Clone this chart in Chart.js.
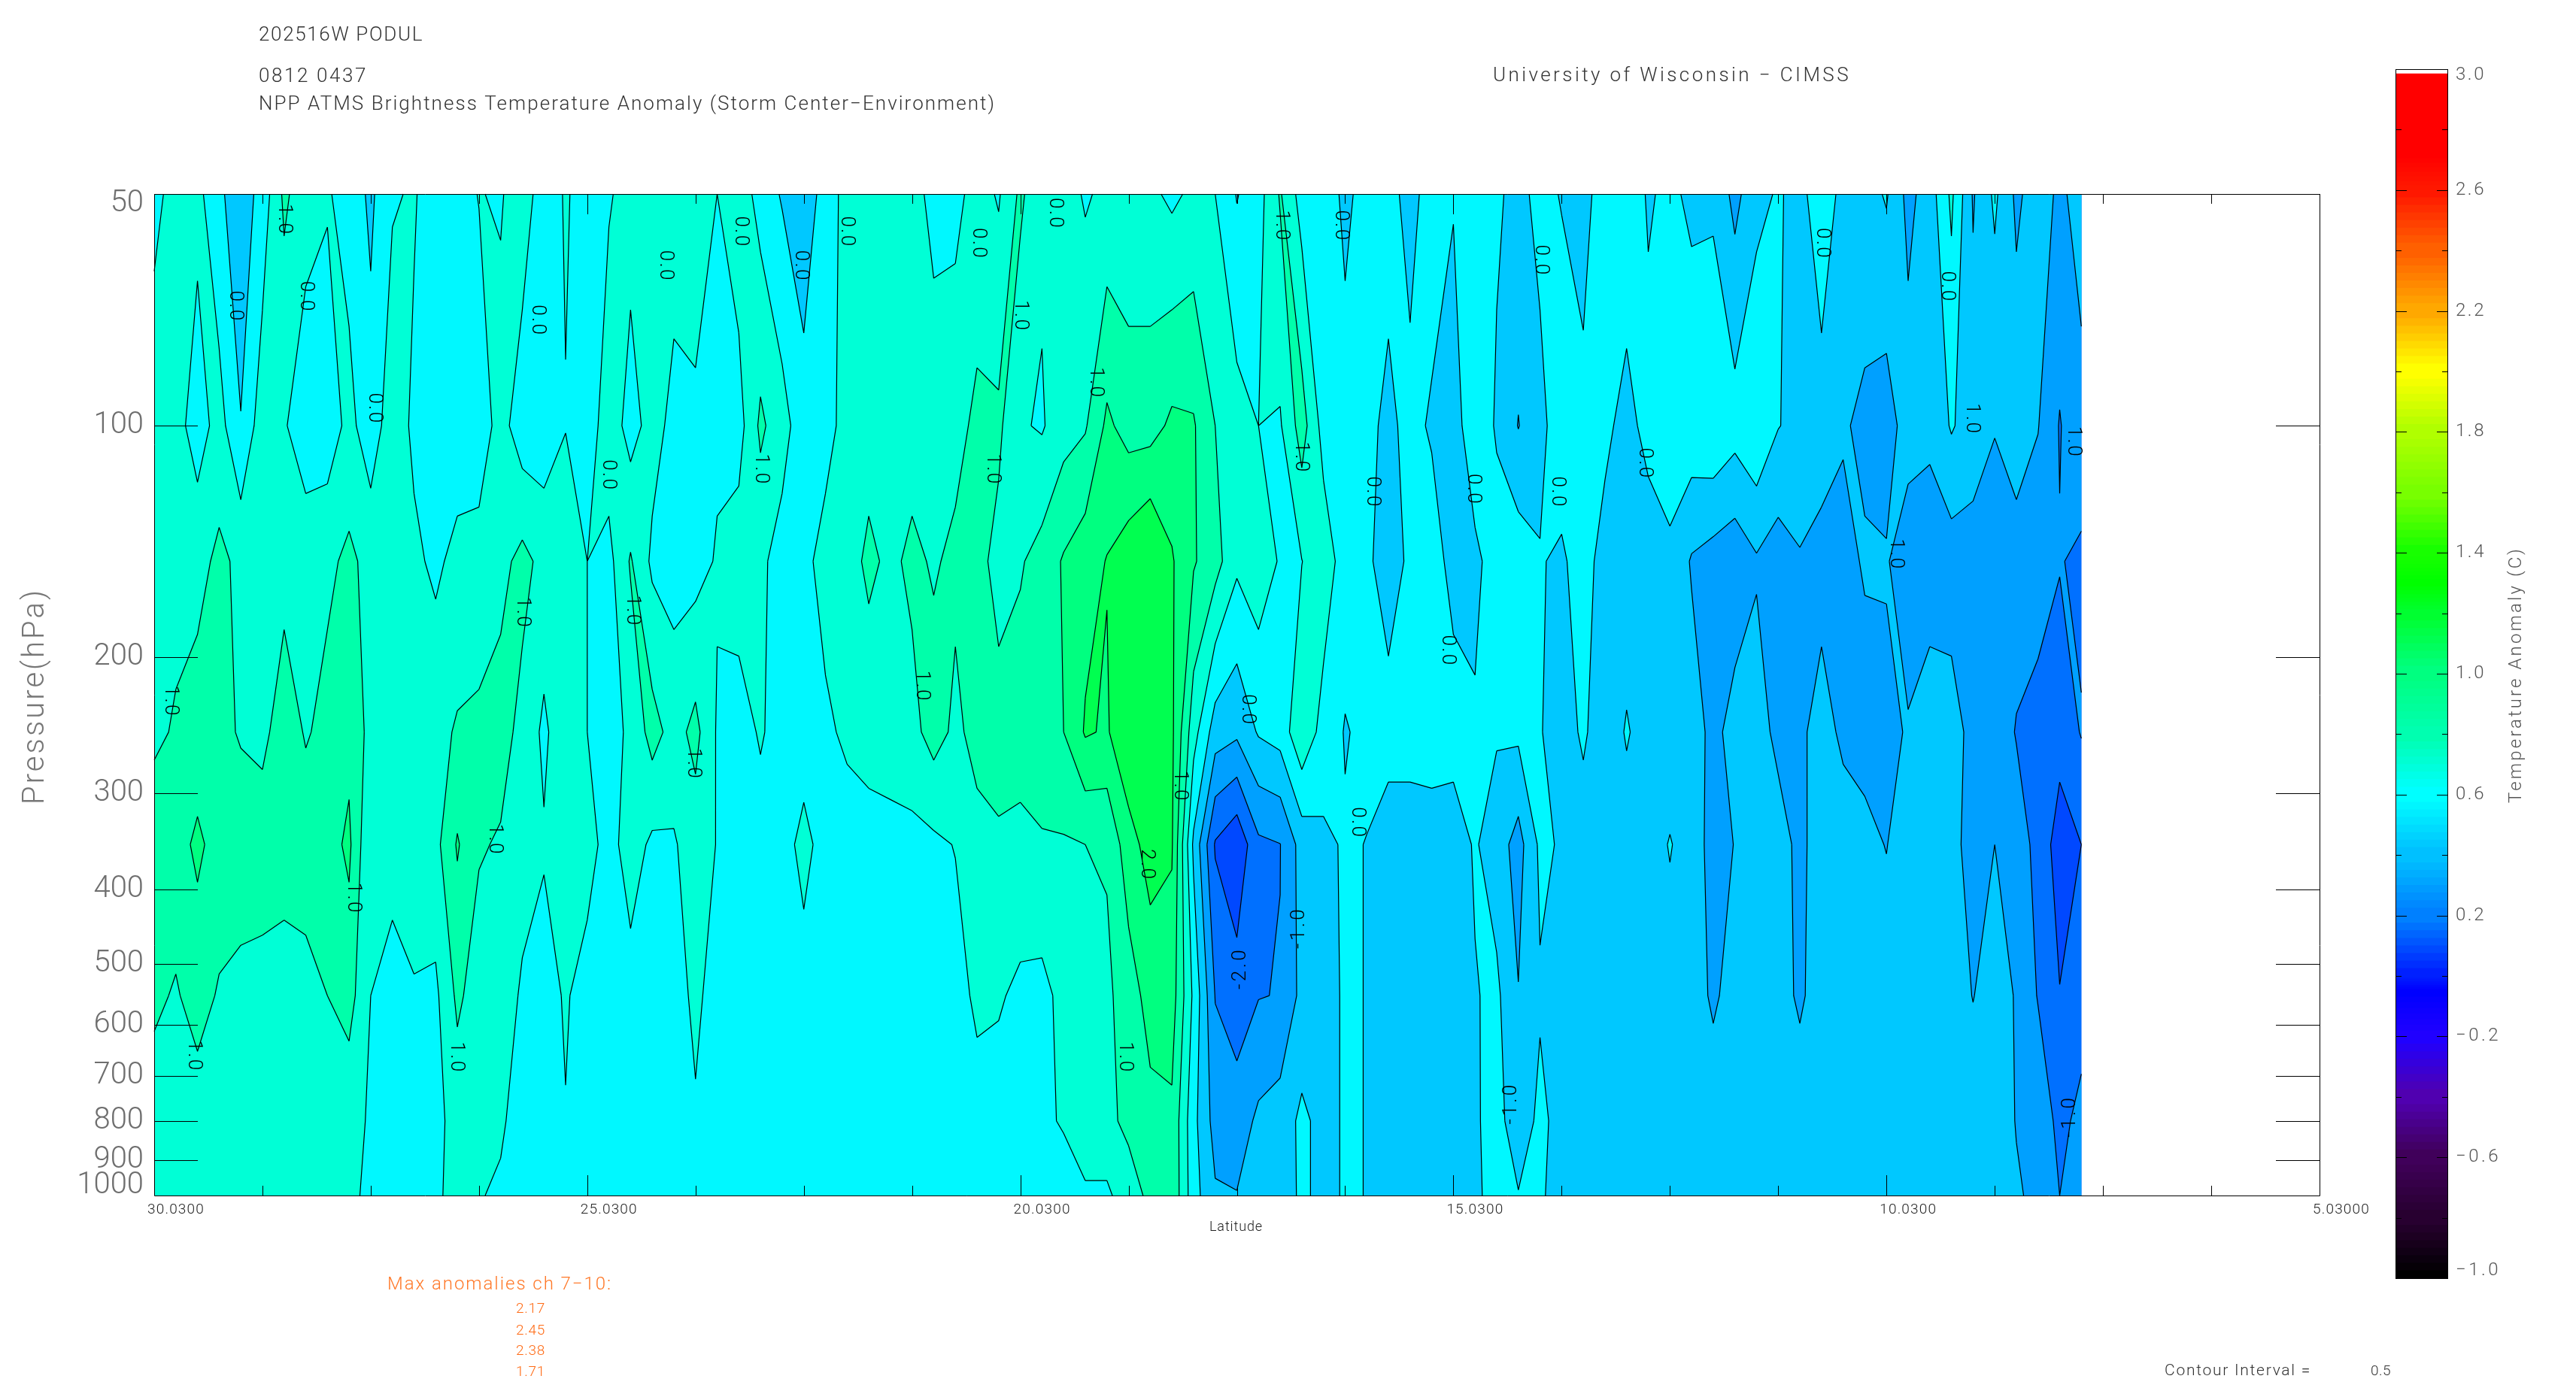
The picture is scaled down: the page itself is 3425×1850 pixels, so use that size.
<!DOCTYPE html>
<html>
<head>
<meta charset="utf-8">
<script src="https://cdn.jsdelivr.net/npm/chart.js@4"></script>
<style>
  html, body { margin: 0; background: #fff; }
  #wrap { position: relative; width: 3425px; height: 1850px; }
  canvas { position: absolute; left: 0; top: 0; }
  #bar { left: 3150px; }
</style>
</head>
<body>
<div id="wrap">
  <canvas id="main" width="3425" height="1850"></canvas>
  <canvas id="bar" width="275" height="1850"></canvas>
</div>
<script>
const levels = [50, 100, 150, 250, 350, 550, 800, 1000];
const firstLat = 30.03;
const latStep = 0.25;

const row50 = [.35,.7,.65,.1,-.3,.2,1.1,.7,.55,.3,-.1,.45,.55,.2,.3,.52,.45,.8,.2,.55,.3,.45,.7,.55,.75,.8,.5,.8,.3,-.05,-.3,.2,.7,.5,.8,.75,.3,.35,.7,.45,1.1,.6,.7,.45,.6,.6,.6,.4,.6,.5,-.03,.3,1.05,.28,.3,-.12,.2,.15,-.15,.2,.03,.35,.05,-.1,.1,-.02,-.2,.3,.3,-.05,.1,-.1,-.1,-.65,-.15,.05,-.15,.3,-.15,-.2,.05,-.65,-.25,.6,-.55,.1,-.6,-.25,-.6,-.3];
const row100 = [.8,.7,.25,.7,.02,.8,.55,.2,.2,.65,.2,.8,.4,.2,.2,.2,.7,.2,.2,.48,.2,.8,.3,.7,.35,.4,.4,.3,1.1,.7,.2,.3,.7,.8,.8,.8,.85,.85,1.1,1.1,.55,.45,.8,.95,1.6,1.3,1.3,1.6,1.55,1.0,.7,.5,.45,1.23,.3,.2,.1,-.09,.12,-.05,-.2,.3,-.05,-.52,-.1,.2,.14,.1,-.15,.15,.2,.34,.45,.21,.45,.02,-.15,-.2,-.45,-.6,-.75,-.25,-.4,.05,-.25,-.48,-.2,-.48,-1.03,-.65];
const row150 = [.85,.85,.85,1.1,.9,.85,.8,.8,.9,1.1,.85,.85,.6,.4,.65,.7,.85,1.15,.85,.85,.5,.35,1.05,.4,.3,.3,.55,.75,.6,.3,.35,.7,.8,1.1,.9,1.1,.95,1.1,1.15,.85,.95,1.2,1.55,1.8,2.02,2.3,2.6,2.05,1.55,1.2,.6,.8,.45,.49,.8,.25,.1,-.25,.1,.2,-.15,-.1,.2,.3,.02,-.05,.15,-.15,-.2,-.25,-.07,-.55,-.71,-.83,-.56,-.75,-.54,-.7,-.65,-.45,-.45,-.83,-.75,-.75,-.7,-.7,-.75,-.8,-.97,-1.1];
const row250 = [.9,1.05,1.2,1.15,.95,.85,1.3,.95,1.15,1.35,.85,.8,.8,.85,1.05,1.1,1.2,.85,.4,.85,.5,.3,.6,1.2,.8,1.15,.45,.3,.55,.3,.25,.4,.6,.7,.8,.85,1.2,.9,1.15,1.15,1.25,1.3,1.5,2.05,1.95,2.4,2.6,2.1,.7,-.25,-.4,.05,.2,.9,.3,-.03,.1,.2,.2,.25,.2,.05,.05,.1,.02,-.15,.05,-.2,.03,-.15,-.2,-.25,-.65,-.3,-.25,-.65,-.6,-.3,-.6,-.7,-.65,-.45,-.25,-.3,-.65,-.7,-1.03,-1.15,-1.3,-.97];
const row350 = [1.3,1.3,1.6,1.3,1.3,1.3,1.3,1.3,1.3,1.6,.5,.7,.8,.85,1.55,1.05,.95,.65,.55,.7,.7,.3,.75,.4,.45,.75,.48,.3,.3,.3,.65,.3,.25,.3,.3,.35,.4,.52,.85,.95,.85,.95,.95,1.0,1.05,1.8,2.2,2.05,-.1,-1.55,-1.9,-1.1,-1.01,-.3,-.1,.05,-.01,-.25,-.25,-.25,-.25,.05,-.25,-.7,.1,-.05,-.15,-.15,-.15,-.15,.02,-.15,-.75,-.48,-.2,-.25,-.65,-.2,-.25,-.35,-.52,-.15,-.2,-.3,-.75,-.5,-.75,-1.15,-1.75,-1.5];
const row550 = [1.1,.95,1.2,.95,.85,.8,.7,.8,1.0,1.2,.5,.3,.45,.4,1.1,.75,.7,.45,.3,.55,.3,.3,.3,.3,.3,.6,.3,.3,.3,.3,.3,.3,.3,.3,.3,.3,.3,.3,.6,.55,.4,.35,.65,.85,.9,1.25,1.7,1.75,.4,-1.02,-1.25,-1.02,-.98,-.35,-.15,.05,-.01,-.15,-.15,-.15,-.15,-.03,.1,-.48,-.05,-.2,-.2,-.2,-.2,-.2,-.15,-.2,-.6,-.25,-.2,-.25,-.6,-.2,-.2,-.2,-.2,-.2,-.2,-.2,-.52,-.2,-.55,-1.03,-1.48,-1.25];
const row800 = [.75,.75,.75,.75,.75,.75,.75,.75,.75,.65,.45,.3,.3,.35,.7,.7,.55,.35,.3,.48,.3,.3,.3,.3,.3,.45,.3,.3,.3,.3,.3,.3,.3,.3,.3,.3,.3,.3,.3,.3,.3,.4,.55,.7,.9,1.1,1.35,1.4,.15,-.7,-.77,-.4,-.25,.1,-.15,.05,-.01,-.15,-.15,-.15,-.15,-.05,.15,-.25,.1,-.15,-.15,-.15,-.15,-.15,-.15,-.15,-.15,-.15,-.15,-.15,-.15,-.15,-.15,-.15,-.15,-.15,-.15,-.15,-.15,-.25,-.52,-.65,-1.15,-.85];
const row1000 = [.7,.7,.7,.7,.7,.7,.7,.7,.7,.7,.3,.3,.3,.45,.6,.52,.45,.25,.25,.25,.25,.25,.25,.25,.25,.25,.25,.25,.25,.25,.25,.25,.25,.25,.25,.25,.25,.25,.25,.25,.25,.25,.25,.45,.4,.8,1.1,1.4,.2,-.44,-.48,-.4,-.3,.1,-.15,.05,-.01,-.15,-.15,-.15,-.15,-.1,.2,.02,.05,-.15,-.15,-.15,-.15,-.15,-.15,-.15,-.15,-.15,-.15,-.15,-.15,-.15,-.15,-.15,-.15,-.15,-.15,-.15,-.15,-.15,-.45,-.6,-1.0,-.7];
const rows = [row50, row100, row150, row250, row350, row550, row800, row1000];

// fill bands, lowest first
const contourLevels = [-1.5, -1, -0.5, 0, 0.5, 1, 1.5, 2];
const bandColors = ['#0048ff', '#0070ff', '#00a0ff', '#00c8ff', '#00f8ff', '#00ffd6', '#00ffaa', '#00ff80', '#00ff50'];

const pressureTicks = [100, 200, 300, 400, 500, 600, 700, 800, 900];
const pressureLabels = [50, 100, 200, 300, 400, 500, 600, 700, 800, 900, 1000];
const latMajor = [30.03, 25.03, 20.03, 15.03, 10.03, 5.03];
const latMajorLabels = ['30.0300', '25.0300', '20.0300', '15.0300', '10.0300', '5.03000'];

// lat, pressure, text
const contourLabels = [
  [29.10,70,'0.0'],[28.53,54,'1.0'],[28.28,68,'0.0'],[27.49,95,'0.0'],[25.61,73,'0.0'],[24.13,62,'0.0'],
  [23.26,56,'0.0'],[22.57,62,'0.0'],[22.04,56,'0.0'],[20.52,58,'0.0'],[20.03,72,'1.0'],[19.63,53,'0.0'],
  [19.16,88,'1.0'],[20.35,114,'1.0'],[17.02,55,'1.0'],[16.33,55,'0.0'],[16.79,110,'1.0'],[15.97,122,'0.0'],
  [14.80,121,'0.0'],[13.83,122,'0.0'],[14.02,61,'0.0'],[10.77,58,'0.0'],[9.33,66,'0.0'],[12.82,112,'0.0'],
  [9.05,98,'1.0'],[7.87,105,'1.0'],[9.92,147,'1.0'],[15.10,196,'0.0'],[17.41,234,'0.0'],[18.19,294,'1.0'],
  [16.14,328,'0.0'],[18.57,372,'2.0'],[17.49,507,'-2.0'],[16.81,449,'-1.0'],[14.36,759,'-1.0'],[7.91,789,'-1.0'],
  [18.82,662,'1.0'],[29.84,228,'1.0'],[29.57,659,'1.0'],[27.73,411,'1.0'],[26.54,662,'1.0'],[26.10,345,'1.0'],
  [25.78,175,'1.0'],[24.79,116,'0.0'],[24.51,174,'1.0'],[23.03,114,'1.0'],[23.81,275,'1.0'],[21.17,218,'1.0']
];

const lats = row50.map((v, i) => firstLat - latStep * i);
const gridPoints = [];
levels.forEach((p, j) => lats.forEach((lat, i) => gridPoints.push({ x: lat, y: p, v: rows[j][i] })));

// colour bar
const cbValues = [-1, -0.8, -0.6, -0.4, -0.2, -0.05, 0, 0.2, 0.4, 0.6, 0.8, 1.0, 1.2, 1.3, 1.4, 1.6, 1.8, 2.0, 2.2, 2.4, 2.6, 2.72, 2.985];
const cbColors = ['#000000', '#280030', '#40005a', '#5000b0', '#2000ff', '#0000ff', '#0020ff', '#0080ff', '#00c0ff', '#00ffff', '#00ffb0', '#00ff80', '#00ff30', '#00ff00', '#18ff00', '#78ff00', '#b0ff00', '#ffff00', '#ffa800', '#ff6000', '#ff1800', '#ff0000', '#ff0000'];
const cbMajor = [3, 2.6, 2.2, 1.8, 1.4, 1.0, 0.6, 0.2, -0.2, -0.6, -1];
const cbMinor = [2.8, 2.4, 2.0, 1.6, 1.2, 0.8, 0.4, 0, -0.4, -0.8];

function hexRgb(h) {
  return [parseInt(h.slice(1, 3), 16), parseInt(h.slice(3, 5), 16), parseInt(h.slice(5, 7), 16)];
}

function text(ctx, str, x, y, size, color, width, angle) {
  ctx.save();
  ctx.font = '300 ' + size + 'px Roboto';
  ctx.fillStyle = color;
  ctx.textBaseline = 'middle';
  ctx.textAlign = 'left';
  ctx.translate(x, y);
  if (angle) ctx.rotate(angle);
  if (width) {
    ctx.letterSpacing = '0px';
    const w = ctx.measureText(str).width;
    ctx.letterSpacing = ((width - w) / str.length) + 'px';
  }
  ctx.fillText(str, 0, 0);
  ctx.restore();
}

// polygon part of a cell where value >= level
function clipCell(cell, level) {
  const out = [];
  for (let k = 0; k < 4; k++) {
    const a = cell[k], b = cell[(k + 1) % 4];
    if (a.v >= level) out.push(a);
    if ((a.v >= level) !== (b.v >= level)) {
      const t = (level - a.v) / (b.v - a.v);
      out.push({ x: a.x + (b.x - a.x) * t, y: a.y + (b.y - a.y) * t });
    }
  }
  return out;
}

const contourPlugin = {
  id: 'contour',
  beforeDatasetsDraw(chart) {
    const ctx = chart.ctx, xs = chart.scales.x, ys = chart.scales.y;
    const px = lats.map(l => xs.getPixelForValue(l));
    const py = levels.map(p => ys.getPixelForValue(p));
    const cells = [];
    for (let j = 0; j < levels.length - 1; j++) {
      for (let i = 0; i < lats.length - 1; i++) {
        cells.push([
          { x: px[i], y: py[j], v: rows[j][i] },
          { x: px[i + 1], y: py[j], v: rows[j][i + 1] },
          { x: px[i + 1], y: py[j + 1], v: rows[j + 1][i + 1] },
          { x: px[i], y: py[j + 1], v: rows[j + 1][i] }
        ]);
      }
    }
    ctx.save();
    ctx.fillStyle = bandColors[0];
    ctx.fillRect(px[0], py[0], px[px.length - 1] - px[0], py[py.length - 1] - py[0]);
    contourLevels.forEach((level, n) => {
      ctx.beginPath();
      cells.forEach(cell => {
        const poly = clipCell(cell, level);
        if (poly.length < 3) return;
        ctx.moveTo(poly[0].x, poly[0].y);
        poly.slice(1).forEach(p => ctx.lineTo(p.x, p.y));
        ctx.closePath();
      });
      ctx.fillStyle = bandColors[n + 1];
      ctx.fill();
    });
    ctx.strokeStyle = '#000';
    ctx.lineWidth = 1.2;
    contourLevels.forEach(level => {
      ctx.beginPath();
      cells.forEach(cell => {
        const hits = [];
        for (let k = 0; k < 4; k++) {
          const a = cell[k], b = cell[(k + 1) % 4];
          if ((a.v >= level) !== (b.v >= level)) {
            const t = (level - a.v) / (b.v - a.v);
            hits.push([a.x + (b.x - a.x) * t, a.y + (b.y - a.y) * t]);
          }
        }
        // saddle: pair the crossings the same way the fill polygon joins them
        if (hits.length === 4 && cell[0].v < level) hits.push(hits.shift());
        for (let h = 0; h + 1 < hits.length; h += 2) {
          ctx.moveTo(hits[h][0], hits[h][1]);
          ctx.lineTo(hits[h + 1][0], hits[h + 1][1]);
        }
      });
      ctx.stroke();
    });
    ctx.restore();
  },
  afterDraw(chart) {
    const ctx = chart.ctx, xs = chart.scales.x, ys = chart.scales.y;
    const a = chart.chartArea;
    ctx.save();
    ctx.strokeStyle = '#000';
    ctx.lineWidth = 1;
    ctx.beginPath();
    ctx.rect(a.left + 0.5, a.top + 0.5, a.right - a.left, a.bottom - a.top);
    pressureTicks.forEach(p => {
      const y = Math.round(ys.getPixelForValue(p)) + 0.5;
      ctx.moveTo(a.left, y); ctx.lineTo(a.left + 58, y);
      ctx.moveTo(a.right - 58, y); ctx.lineTo(a.right, y);
    });
    for (let k = 0; k <= 20; k++) {
      const lat = 30.03 - 1.25 * k;
      const x = Math.round(xs.getPixelForValue(lat)) + 0.5;
      const len = k % 4 === 0 ? 27 : 13;
      ctx.moveTo(x, a.bottom); ctx.lineTo(x, a.bottom - len);
      ctx.moveTo(x, a.top); ctx.lineTo(x, a.top + len);
    }
    ctx.stroke();
    ctx.restore();

    contourLabels.forEach(l => {
      const x = xs.getPixelForValue(l[0]), y = ys.getPixelForValue(l[1]);
      const up = l[2].charAt(0) === '-';
      ctx.save();
      ctx.translate(x, y);
      ctx.rotate(up ? -Math.PI / 2 : Math.PI / 2);
      text(ctx, l[2], up ? -28 : -21, 0, 26, '#000', up ? 56 : 42, 0);
      ctx.restore();
    });

    // axis labels
    pressureLabels.forEach(p => {
      let y = ys.getPixelForValue(p);
      if (p === 50) y += 13;
      if (p === 1000) y -= 13;
      ctx.save();
      ctx.font = '300 40px Roboto';
      ctx.fillStyle = '#6e6e6e';
      ctx.textAlign = 'right';
      ctx.textBaseline = 'middle';
      ctx.fillText(String(p), a.left - 14, y);
      ctx.restore();
    });
    latMajor.forEach((lat, i) => {
      text(ctx, latMajorLabels[i], xs.getPixelForValue(lat) - 9, 1609, 19, '#222', 76);
    });

    text(ctx, '202516W PODUL', 344, 47, 26, '#333', 219);
    text(ctx, '0812 0437', 344, 102, 26, '#333', 145);
    text(ctx, 'NPP ATMS Brightness Temperature Anomaly (Storm Center\u2212Environment)', 344, 139, 26, '#333', 980);
    text(ctx, 'University of Wisconsin \u2212 CIMSS', 1985, 101, 26, '#333', 476);
    text(ctx, 'Pressure(hPa)', 48, 1070, 40, '#777', 288, -Math.PI / 2);
    text(ctx, 'Latitude', 1608, 1632, 18, '#222', 71);
    text(ctx, 'Max anomalies ch 7\u221210:', 515, 1709, 24, '#ff7828', 299);
    ['2.17', '2.45', '2.38', '1.71'].forEach((s, i) => {
      text(ctx, s, 686, [1741, 1770, 1797, 1825][i], 19, '#ff6a14', 39);
    });
    text(ctx, 'Contour Interval =', 2878, 1824, 21, '#333', 195);
    text(ctx, '0.5', 3152, 1824, 19, '#333', 27);
  }
};

new Chart(document.getElementById('main'), {
  type: 'scatter',
  data: { datasets: [{ data: gridPoints, pointRadius: 0, showLine: false }] },
  options: {
    responsive: false,
    animation: false,
    parsing: false,
    layout: { padding: { left: 205, top: 258, right: 341, bottom: 260 } },
    plugins: { legend: { display: false }, tooltip: { enabled: false } },
    scales: {
      x: { type: 'linear', display: false, reverse: true, min: 5.03, max: 30.03 },
      y: { type: 'logarithmic', display: false, reverse: true, min: 50, max: 1000 }
    }
  },
  plugins: [contourPlugin]
});

// colour bar, one floating bar per colour step
const cbBars = [];
for (let k = 0; k < cbValues.length - 1; k++) {
  const c0 = hexRgb(cbColors[k]), c1 = hexRgb(cbColors[k + 1]);
  const steps = 8;
  for (let s = 0; s < steps; s++) {
    const t = s / (steps - 1 || 1);
    const hi = cbValues[k] + (cbValues[k + 1] - cbValues[k]) * (s + 1) / steps;
    const col = c0.map((c, n) => Math.round(c + (c1[n] - c) * t));
    cbBars.push({
      data: [[-1, hi]],
      backgroundColor: 'rgb(' + col.join(',') + ')',
      borderWidth: 0,
      grouped: false,
      barPercentage: 1,
      categoryPercentage: 1
    });
  }
}

const barPlugin = {
  id: 'barFrame',
  afterDraw(chart) {
    const ctx = chart.ctx, ys = chart.scales.y;
    const a = chart.chartArea;
    ctx.save();
    ctx.strokeStyle = '#000';
    ctx.lineWidth = 1;
    ctx.beginPath();
    ctx.rect(a.left + 0.5, a.top + 0.5, a.right - a.left - 1, a.bottom - a.top);
    cbMajor.forEach(v => {
      const y = Math.round(ys.getPixelForValue(v)) + 0.5;
      ctx.moveTo(a.left, y); ctx.lineTo(a.left + 15, y);
      ctx.moveTo(a.right - 15, y); ctx.lineTo(a.right, y);
    });
    cbMinor.forEach(v => {
      const y = Math.round(ys.getPixelForValue(v)) + 0.5;
      ctx.moveTo(a.left, y); ctx.lineTo(a.left + 8, y);
      ctx.moveTo(a.right - 8, y); ctx.lineTo(a.right, y);
    });
    ctx.stroke();
    ctx.restore();
    cbMajor.forEach(v => {
      let y = ys.getPixelForValue(v);
      if (v === 3) y += 8;
      if (v === -1) y -= 10;
      const s = (v < 0 ? '\u2212' : '') + Math.abs(v).toFixed(1);
      text(ctx, s, 115, y, 24, '#555', v < 0 ? 60 : 40);
    });
    text(ctx, 'Temperature Anomaly (C)', 196, 1068, 24, '#555', 341, -Math.PI / 2);
  }
};

new Chart(document.getElementById('bar'), {
  type: 'bar',
  data: { labels: ['T'], datasets: cbBars },
  options: {
    responsive: false,
    animation: false,
    layout: { padding: { left: 35, right: 170, top: 92, bottom: 150 } },
    plugins: { legend: { display: false }, tooltip: { enabled: false } },
    scales: {
      x: { display: false },
      y: { type: 'linear', display: false, min: -1, max: 3 }
    }
  },
  plugins: [barPlugin]
});
</script>
</body>
</html>
